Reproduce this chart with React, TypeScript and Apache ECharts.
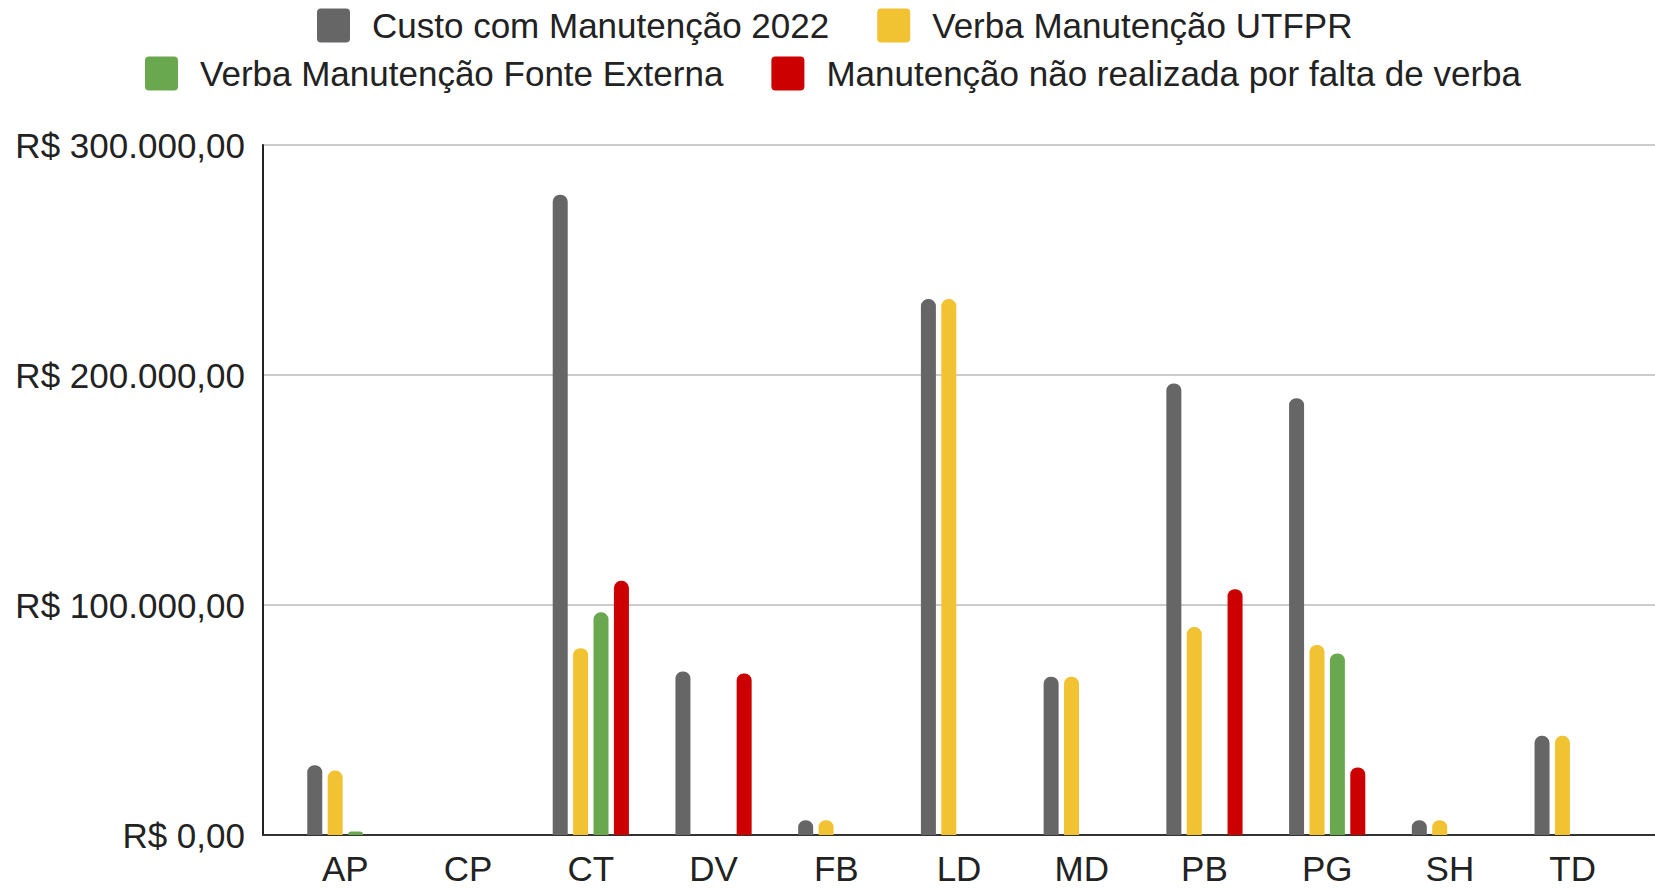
import React, { useEffect, useRef } from "react";
import * as echarts from "echarts";

const categories = ["AP", "CP", "CT", "DV", "FB", "LD", "MD", "PB", "PG", "SH", "TD"];
const seriesNames = [
  "Custo com Manutenção 2022",
  "Verba Manutenção UTFPR",
  "Verba Manutenção Fonte Externa",
  "Manutenção não realizada por falta de verba",
];
const custo2022 = [30300, 0, 278400, 71100, 6400, 233000, 68800, 196300, 189900, 6400, 43100];
const verbaUTFPR = [28000, 0, 81200, 0, 6400, 233000, 68800, 90400, 82600, 6400, 43100];
const verbaExterna = [1500, 0, 96800, 0, 0, 0, 0, 0, 78900, 0, 0];
const naoRealizada = [0, 0, 110500, 70200, 0, 0, 0, 106900, 29400, 0, 0];
const colors = ["#666666", "#f1c232", "#6aa84f", "#cc0000"];
const yTicks = [0, 100000, 200000, 300000];

const fmt = (v: number) => {
  const s = Math.round(v).toString().replace(/\B(?=(\d{3})+(?!\d))/g, ".");
  return "R$ " + s + ",00";
};

const FONT = "'Liberation Sans', Arial, sans-serif";
const FS = 35;

export default function App() {
  const ref = useRef<HTMLDivElement>(null);
  useEffect(() => {
    if (!ref.current) return;
    const chart = echarts.init(ref.current, null, { renderer: "svg" });
    const allData = [custo2022, verbaUTFPR, verbaExterna, naoRealizada];
    const legendBase = {
      orient: "horizontal",
      icon: "path://M4,0 H29 Q33,0 33,4 V30 Q33,34 29,34 H4 Q0,34 0,30 V4 Q0,0 4,0 Z",
      itemWidth: 33,
      itemHeight: 34,
      itemGap: 48,
      padding: 0,
      textStyle: { fontSize: FS, color: "#222222", fontFamily: FONT, padding: [0, 0, 0, 17] },
    };
    chart.setOption({
      animation: false,
      color: colors,
      textStyle: { fontFamily: FONT },
      legend: [
        { ...legendBase, left: 317, top: 8, data: [seriesNames[0], seriesNames[1]] },
        { ...legendBase, left: 145, top: 56, data: [seriesNames[2], seriesNames[3]] },
      ],
      grid: [
        { left: 263, right: 0, top: 145, bottom: 53, containLabel: false },
        { left: 284, right: 21, top: 145, bottom: 53, containLabel: false },
      ],
      xAxis: [
        {
          gridIndex: 0,
          type: "value",
          min: 0,
          max: 1,
          axisLine: { show: true, lineStyle: { color: "#333333", width: 2 } },
          axisTick: { show: false },
          axisLabel: { show: false },
          splitLine: { show: false },
        },
        {
          gridIndex: 1,
          type: "category",
          data: categories,
          axisLine: { show: false },
          axisTick: { show: false },
          axisLabel: { fontSize: FS, color: "#222222", margin: 16, fontFamily: FONT },
        },
      ],
      yAxis: [
        {
          gridIndex: 0,
          type: "value",
          min: yTicks[0],
          max: yTicks[yTicks.length - 1],
          interval: yTicks[1] - yTicks[0],
          axisLine: { show: true, lineStyle: { color: "#222222", width: 2 } },
          axisTick: { show: false },
          axisLabel: { fontSize: FS, color: "#222222", margin: 18, fontFamily: FONT, formatter: fmt },
          splitLine: { show: true, lineStyle: { color: "#cccccc", width: 2 } },
        },
        {
          gridIndex: 1,
          type: "value",
          min: yTicks[0],
          max: yTicks[yTicks.length - 1],
          show: false,
          splitLine: { show: false },
        },
      ],
      series: seriesNames.map((name, i) => ({
        name,
        type: "bar",
        xAxisIndex: 1,
        yAxisIndex: 1,
        data: allData[i],
        barWidth: 15,
        barGap: "36%",
        itemStyle: { color: colors[i], borderRadius: [7, 7, 0, 0] },
      })),
    });
    return () => chart.dispose();
  }, []);
  return (
    <div
      ref={ref}
      style={{ position: "fixed", left: 0, top: 0, width: 1655, height: 888, background: "#ffffff" }}
    />
  );
}
